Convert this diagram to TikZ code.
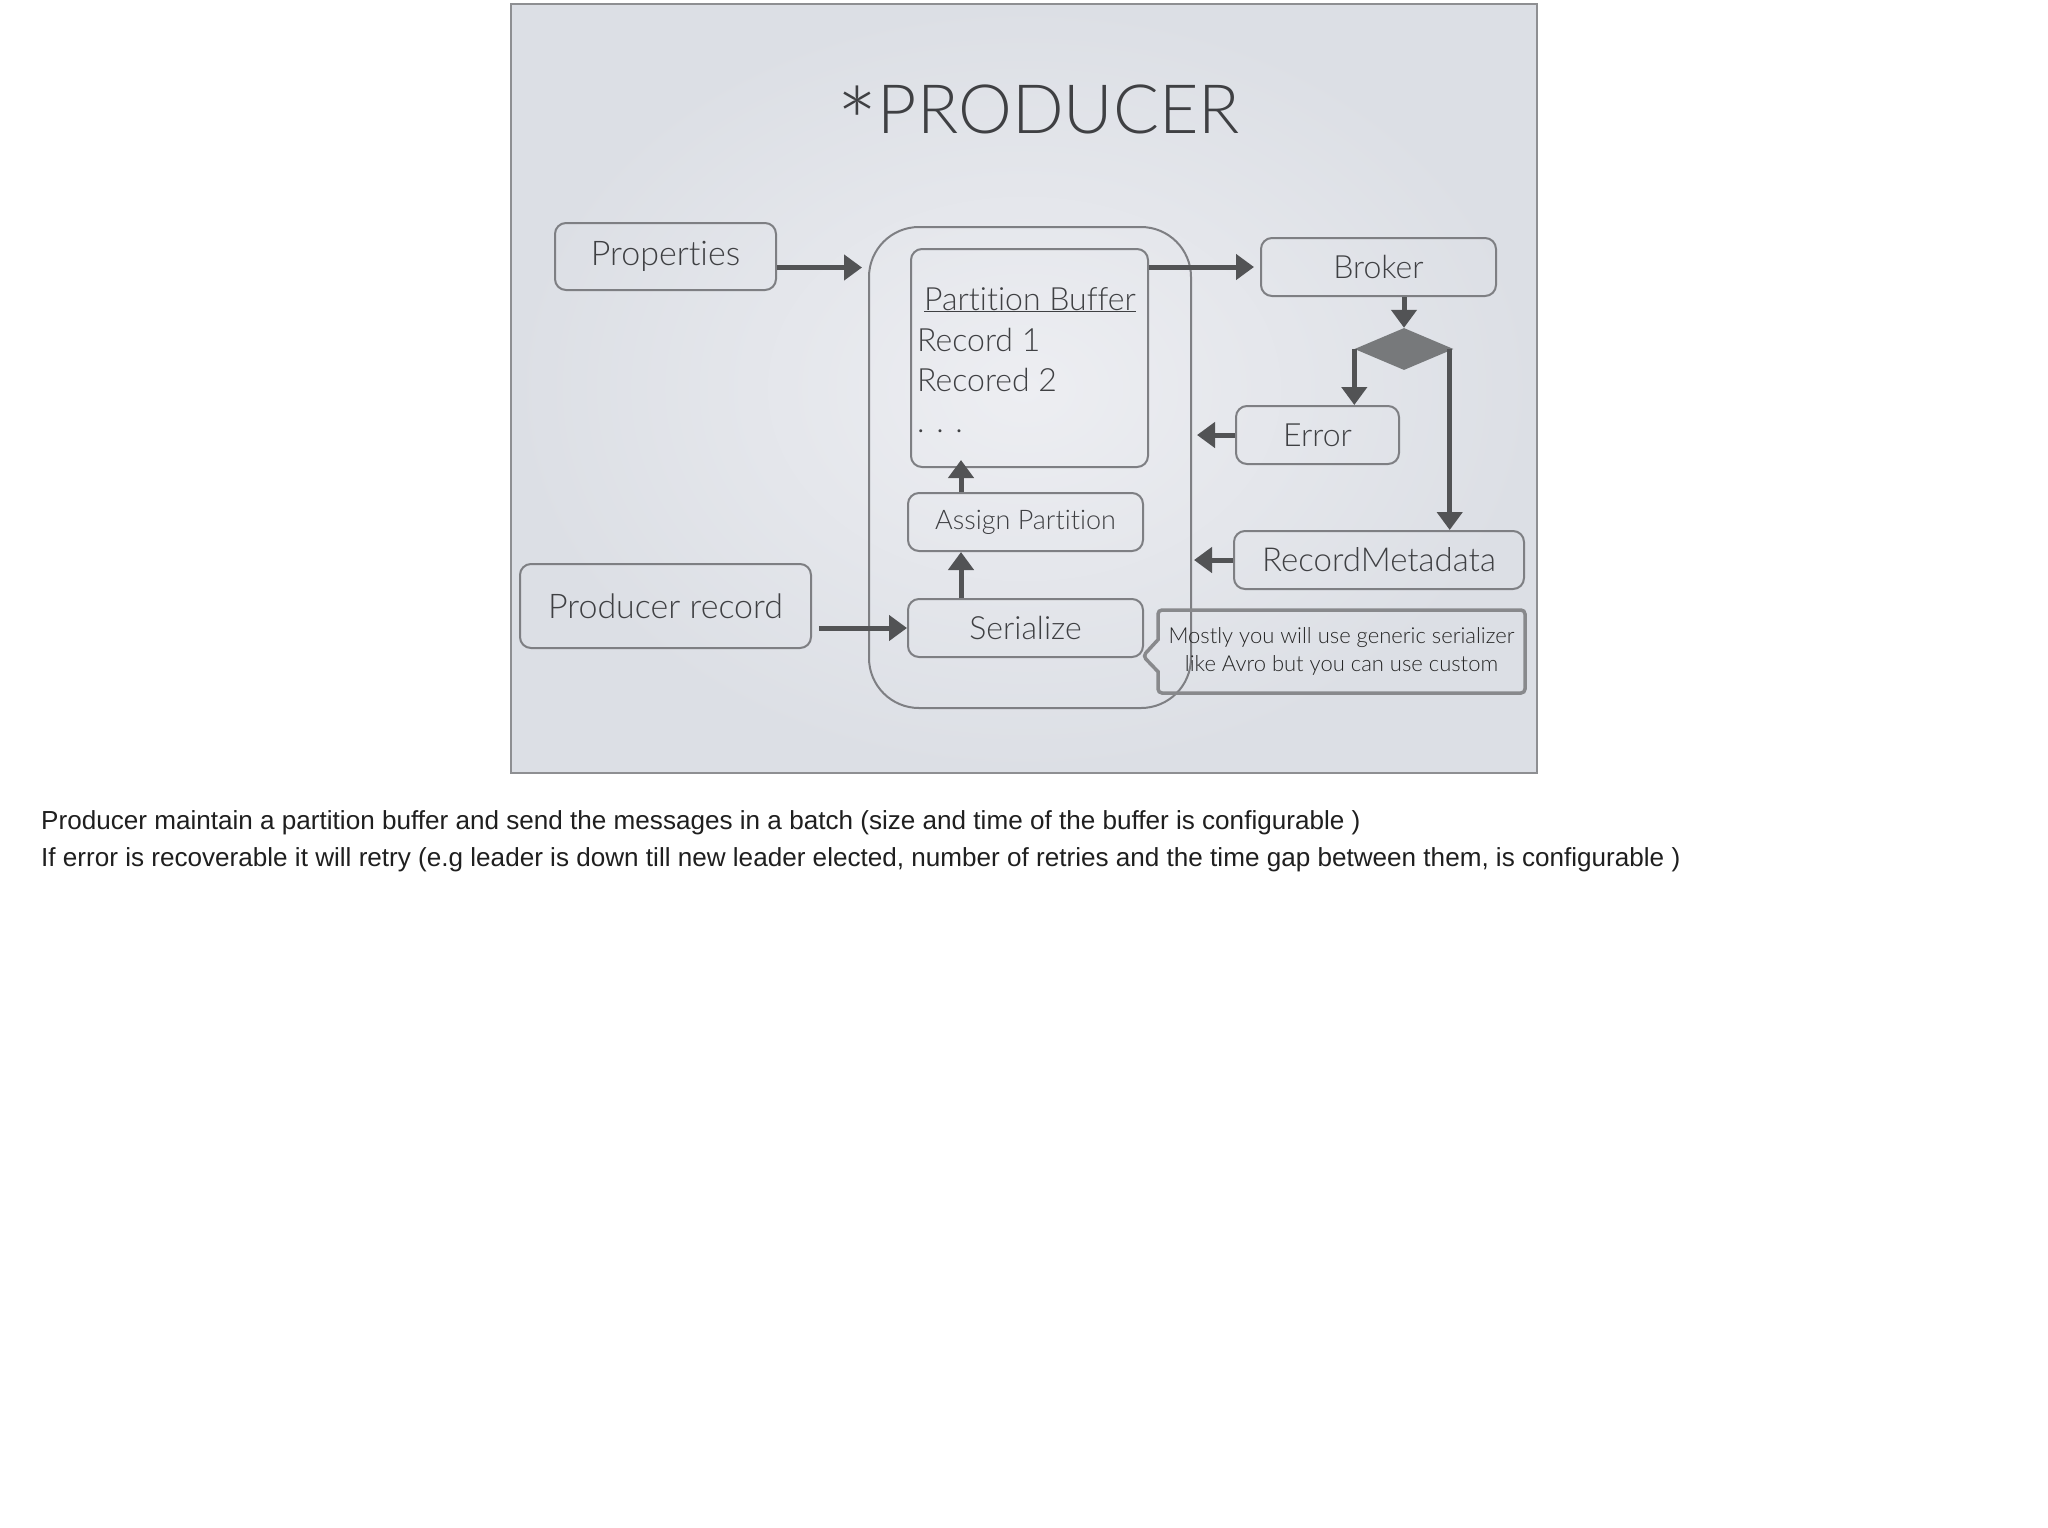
\documentclass[tikz,border=0pt]{standalone}
\usepackage{fontspec}
\usetikzlibrary{shapes.geometric,shapes.callouts,arrows.meta}
\setmainfont{Liberation Sans}
\IfFontExistsTF{Lato Light}{\newfontfamily\gill{Lato Light}[Ligatures=NoCommon]}{\newfontfamily\gill{Lato}[Ligatures=NoCommon]}
\definecolor{bgin}{HTML}{EDEEF2}
\definecolor{bgout}{HTML}{DCDFE5}
\definecolor{frame}{HTML}{8E8F92}
\definecolor{boxline}{HTML}{7E7F83}
\definecolor{ink}{HTML}{3F4043}
\definecolor{arrowc}{HTML}{525355}
\definecolor{diam}{HTML}{77797B}
\definecolor{calloutc}{HTML}{88898C}
\begin{document}
\begin{tikzpicture}[x=1pt,y=-1pt,
  box/.style={draw=boxline, line width=2pt, rounded corners=11pt, text=ink, inner sep=0pt,
    font=\gill\fontsize{32}{38}\selectfont},
  arr/.style={draw=arrowc, line width=5pt, -{Triangle[length=18pt,width=25pt]}},
  txt/.style={text=ink, inner sep=0pt, font=\gill\fontsize{32}{38}\selectfont},
  note/.style={text=black!88, inner sep=0pt, font=\fontsize{26.1}{31}\selectfont}]
\useasboundingbox (0,0) rectangle (2048,1527);
\fill[white] (0,0) rectangle (2048,1527);
\shade[inner color=bgin, outer color=bgout] (511,4) rectangle (1537,773);
\draw[frame, line width=1.5pt] (511,4) rectangle (1537,773);

\node[txt, font=\gill\fontsize{68}{74}\selectfont, anchor=base] (title) at (1038,133) {\raisebox{-26pt}{\scalebox{1.45}{*}}PRODUCER};

\node[box, minimum width=221pt, minimum height=67pt, font=\gill\fontsize{34}{40}\selectfont] (props) at (665.5,256.5) {Properties};
\node[box, rounded corners=50pt, minimum width=322pt, minimum height=481pt] (outer) at (1030,467.5) {};
\node[box, minimum width=237pt, minimum height=218pt] (buf) at (1029.5,358) {};
\node[txt, anchor=base] (buftitle) at (1030,310) {\underline{Partition Buffer}};
\node[txt, anchor=base west] (rec1) at (917,351) {Record 1};
\node[txt, anchor=base west] (rec2) at (917,391) {Recored 2};
\node[txt, anchor=base west] (dots) at (917,432) {. . .};
\node[box, minimum width=235pt, minimum height=58pt] (broker) at (1378.5,267) {Broker};
\node[diamond, fill=diam, minimum width=99pt, minimum height=42pt, inner sep=0pt] (dec) at (1404,349) {};
\node[box, minimum width=163pt, minimum height=58pt] (error) at (1317.5,435) {Error};
\node[box, minimum width=235pt, minimum height=58pt, font=\gill\fontsize{27}{32}\selectfont] (assign) at (1025.5,522) {Assign Partition};
\node[box, minimum width=290pt, minimum height=58pt, font=\gill\fontsize{33}{38}\selectfont] (rm) at (1379,560) {RecordMetadata};
\node[box, minimum width=291pt, minimum height=84pt, font=\gill\fontsize{34}{40}\selectfont] (pr) at (665.5,606) {Producer record};
\node[box, minimum width=235pt, minimum height=58pt] (ser) at (1025.5,628) {Serialize};
\node[draw=calloutc, line width=3.5pt, rectangle callout, callout absolute pointer={(1143,656)},
  callout pointer width=32pt, rounded corners=4pt, minimum width=367pt, minimum height=83pt,
  inner sep=0pt, text=black!85, font=\gill\fontsize{22}{28}\selectfont, align=center] (callout) at (1341.5,651.5)
  {Mostly you will use generic serializer\\like Avro but you can use custom};

\coordinate (ax) at (961,0);
\path ([yshift=-11pt]props.east) coordinate (p1);
\draw[arr, shorten >=6pt] (p1) -- (p1 -| outer.west);
\draw[arr, shorten >=6pt] (buf.east |- broker.west) -- (broker.west);
\draw[arr] (broker.south -| dec.north) -- (dec.north);
\draw[arr] (dec.west) -- (dec.west |- error.north);
\draw[arr] ([xshift=-4pt]dec.east) -- ([xshift=-4pt]dec.east |- rm.north);
\draw[arr, shorten >=5pt] (error.west) -- (error.west -| outer.east);
\draw[arr, shorten >=2pt] (rm.west) -- (rm.west -| outer.east);
\draw[arr, shorten <=7pt] (pr.east |- ser.west) -- (ser.west);
\draw[arr] (ser.north -| ax) -- (assign.south -| ax);
\draw[arr, shorten >=-8pt] (assign.north -| ax) -- (buf.south -| ax);

\node[note, anchor=base west] (n1) at (41,829) {Producer maintain a partition buffer and send the messages in a batch (size and time of the buffer is configurable )};
\node[note, anchor=base west] (n2) at (41,866) {If error is recoverable it will retry (e.g leader is down till new leader elected, number of retries and the time gap between them, is configurable )};
\end{tikzpicture}
\end{document}
